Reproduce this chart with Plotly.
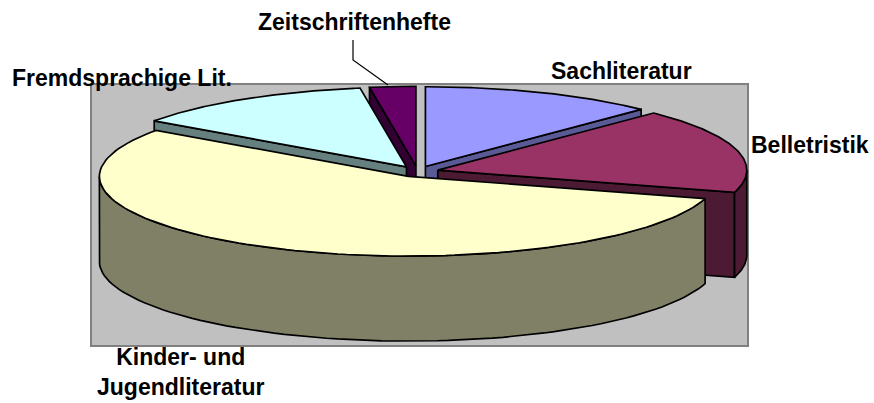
import math
import numpy as np
import plotly.graph_objects as go

categories = ["Sachliteratur", "Belletristik", "Kinder- und Jugendliteratur", "Fremdsprachige Lit.", "Zeitschriftenhefte"]
values = [12.3, 17.2, 55.3, 12.8, 2.4]
top_colors = ["#9999FF", "#993366", "#FFFFCC", "#CCFFFF", "#660066"]
side_colors = ["#5A5A96", "#4D1A33", "#808066", "#668080", "#330033"]

# projection of the pie, in page pixels
CX, CY, RX, RATIO, DEPTH, EXPLODE = 417.5, 171.5, 309, 0.258, 85, 21
W, H = 874, 403
DRAW_ORDER = [4, 0, 3, 1, 2]

total = sum(values)
starts = np.cumsum([0] + values[:-1]) / total * 360
ends = np.cumsum(values) / total * 360


def point(apex, deg, r=RX):
    a = math.radians(deg)
    return apex[0] + r * math.sin(a), apex[1] - r * RATIO * math.cos(a)


def add_poly(fig, pts, color):
    xs = [p[0] for p in pts] + [pts[0][0]]
    ys = [p[1] for p in pts] + [pts[0][1]]
    fig.add_trace(go.Scatter(x=xs, y=ys, mode="lines", fill="toself", fillcolor=color,
                             line=dict(color="#000000", width=1.7), hoverinfo="skip", showlegend=False))


fig = go.Figure()
for i in DRAW_ORDER:
    s, e = starts[i], ends[i]
    mid = math.radians((s + e) / 2)
    apex = (CX + EXPLODE * math.sin(mid), CY - EXPLODE * RATIO * math.cos(mid))
    down = lambda p: (p[0], p[1] + DEPTH)
    # cut faces that look toward the viewer
    if 180 < s < 360:
        r = point(apex, s)
        add_poly(fig, [apex, r, down(r), down(apex)], side_colors[i])
    if 0 < e < 180:
        r = point(apex, e)
        add_poly(fig, [apex, r, down(r), down(apex)], side_colors[i])
    # outer rim facing the viewer
    lo, hi = max(s, 90), min(e, 270)
    if lo < hi:
        arc = [point(apex, d) for d in np.linspace(lo, hi, 80)]
        add_poly(fig, arc + [down(p) for p in reversed(arc)], side_colors[i])
    # top face
    add_poly(fig, [apex] + [point(apex, d) for d in np.linspace(s, e, 120)], top_colors[i])

# leader line of the Zeitschriftenhefte label
fig.add_trace(go.Scatter(x=[353, 353, 388], y=[40, 60, 85], mode="lines", line=dict(color="#000000", width=1.2),
                         hoverinfo="skip", showlegend=False))

font = dict(family="Liberation Sans, Arial", size=23, color="#000000")
labels = [
    (621, 71, "<b>Sachliteratur</b>"),
    (810, 145, "<b>Belletristik</b>"),
    (180, 372, "<b>Kinder- und<br>Jugendliteratur</b>"),
    (121.5, 78, "<b>Fremdsprachige Lit.</b>"),
    (354, 22, "<b>Zeitschriftenhefte</b>"),
]
annotations = [dict(x=x, y=y, text=t, showarrow=False, font=font, xanchor="center", yanchor="middle") for x, y, t in labels]

fig.update_layout(
    width=W, height=H, autosize=False,
    margin=dict(l=0, r=0, t=0, b=0),
    paper_bgcolor="#FFFFFF", plot_bgcolor="#FFFFFF",
    xaxis=dict(range=[0, W], visible=False, fixedrange=True),
    yaxis=dict(range=[H, 0], visible=False, fixedrange=True),
    annotations=annotations,
    shapes=[dict(type="rect", x0=91, y0=84, x1=748, y1=346, layer="below",
                 fillcolor="#C0C0C0", line=dict(color="#808080", width=2))],
)
fig.write_html("out.html", config={"displayModeBar": False},
               post_script="document.body.style.margin='0';")
